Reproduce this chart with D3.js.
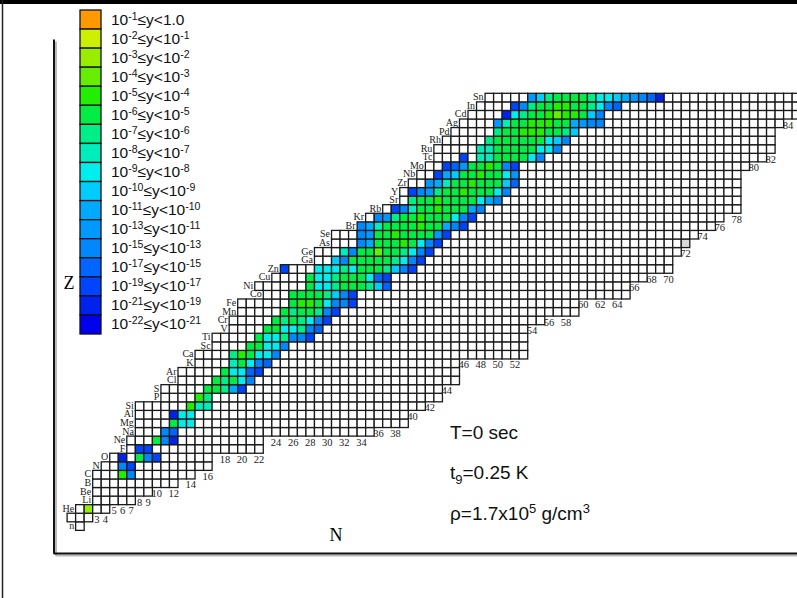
<!DOCTYPE html>
<html>
<head>
<meta charset="utf-8">
<script src="https://cdnjs.cloudflare.com/ajax/libs/d3/7.8.5/d3.min.js"></script>
<style>
  body { margin: 0; background: #fff; }
  svg { display: block; }
</style>
</head>
<body>
<div id="chart"></div>
<script>
(function(){
    var width = 797;
    var height = 598;

    // element symbol for each Z (H row is not labelled in the picture)
    var elements = ["n","","He","Li","Be","B","C","N","O","F",
      "Ne","Na","Mg","Al","Si","P","S","Cl","Ar","K",
      "Ca","Sc","Ti","V","Cr","Mn","Fe","Co","Ni","Cu",
      "Zn","Ga","Ge","As","Se","Br","Kr","Rb","Sr","Y",
      "Zr","Nb","Mo","Tc","Ru","Rh","Pd","Ag","Cd","In","Sn"];

    // first and last N of every row of boxes
    var rowStart = [1,0,1,3,3,3,3,4,5,7, 7,8,8,8,8,11,11,13,13,15,
      15,17,17,19,19,20,20,23,22,24, 25,29,29,31,31,34,35,37,39,39,
      40,41,42,43,43,44,45,46,47,48, 49];
    var rowEnd = [1,2,4,7,9,12,14,16,16,22, 22,35,39,39,41,43,43,45,45,45,
      53,53,53,53,55,59,59,65,65,67, 70,70,71,72,73,75,76,78,78,78,
      78,78,79,81,82,82,82,83,86,86, 86];

    // coloured boxes: first N of the run and one level code per box (0-g, "." = empty)
    var bandStart = [null,null,2,null,null,null,6,6,6,8,
      10,11,12,12,14,15,16,17,18,19,
      19,21,22,23,24,25,26,26,28,28,
      25,31,32,34,34,34,36,38,40,40,
      42,43,44,46,48,49,50,50,51,52, 54];
    var bandLevels = ["","","2","","","","4c","ce","f.5ce","ee",
      "5cf","cd","588","f88","477","46","556ae","5658c","588de","758cd",
      "64588c","5588c","5886cce","55886cd","56568ce","56556ce","54458cce","555569ce","588655569d","58865558de",
      "e...8886855569ce","9c5555568ce","7c5535568ce","ca555458ce","cb5545555be","ca75555455ace","cb65545558ce","ec7554555ac","655455558ac","ecb65545558c",
      "ba75545559d","ea9554558b","edb5545ce","e.7755558c","775555588c","655555589c","6554445569","b75544455abcc","f8655434459c","ec655445568cd",
      "b9655556889abcdf"];
    var greyCells = [[33, 72]];

    // legend classes, top to bottom
    var levelColors = ["#ff9900","#ccf000","#99ee00","#66ee00","#22ee00","#00ee44",
      "#00ee88","#00eebb","#00eeee","#00ccff","#00aaff","#0099ff","#0088ff",
      "#0066ff","#0044ff","#0022ee","#0000ee"];
    var levelLow = [-1,-2,-3,-4,-5,-6,-7,-8,-9,-10,-11,-13,-15,-17,-19,-21,-22];
    var levelHigh = [null,-1,-2,-3,-4,-5,-6,-7,-8,-9,-10,-11,-13,-15,-17,-19,-21];

    // neutron numbers written under the boxes, and the row they sit under
    var nLabels = [3,4,5,6,7,8,9,10,12,14,16,18,20,22,24,26,28,30,32,34,36,38,
      40,42,44,46,48,50,52,54,56,58,60,62,64,66,68,70,72,74,76,78,80,82,84];
    var nLabelRows = [2,2,3,3,3,4,4,5,5,6,7,9,9,9,11,11,11,11,11,11,12,12,
      14,15,17,20,20,20,20,24,25,25,27,27,27,29,30,30,33,35,36,37,43,44,48];

    var svg = d3.select("#chart")
      .append("svg")
      .attr("width", width)
      .attr("height", height)
      .style("font-family", "'Liberation Sans', Arial, sans-serif");

    var x = d3.scaleLinear().domain([0, 86]).range([67.1, 800.68]);
    var y = d3.scaleLinear().domain([50, 0]).range([93.3, 521.8]);
    var cw = x(1) - x(0);
    var ch = y(0) - y(1);

    // frame bits
    svg.append("rect").attr("x", 0).attr("y", 0).attr("width", width).attr("height", 4).attr("fill", "#000");
    svg.append("line").attr("x1", 2.5).attr("x2", 2.5).attr("y1", 0).attr("y2", height)
      .attr("stroke", "#222").attr("stroke-width", 1.5);

    // axis lines (no ticks), with a grey shadow
    var ax = d3.scaleLinear().domain([0, 1]).range([53, 797]);
    var ay = d3.scaleLinear().domain([0, 1]).range([553, 39]);
    [["#bbb", 2], ["#111", 0]].forEach(function(s){
      svg.append("g")
        .attr("transform", "translate(" + s[1] + "," + (553 + s[1]) + ")")
        .call(d3.axisBottom(ax).tickValues([]).tickSizeOuter(0))
        .select(".domain").attr("stroke", s[0]).attr("stroke-width", 2);
      svg.append("g")
        .attr("transform", "translate(" + (53.5 + s[1]) + "," + s[1] + ")")
        .call(d3.axisLeft(ay).tickValues([]).tickSizeOuter(0))
        .select(".domain").attr("stroke", s[0]).attr("stroke-width", 2);
    });

    // build boxes
    var cells = [];
    var byKey = {};
    elements.forEach(function(el, z){
      for (var n = rowStart[z]; n <= rowEnd[z]; n++) {
        var c = {z: z, n: n, fill: "#fff"};
        cells.push(c);
        byKey[z + "_" + n] = c;
      }
    });
    bandStart.forEach(function(s, z){
      if (s == null) return;
      bandLevels[z].split("").forEach(function(code, i){
        if (code === ".") return;
        var c = byKey[z + "_" + (s + i)];
        if (c) c.fill = levelColors[parseInt(code, 17)];
      });
    });
    greyCells.forEach(function(g){
      var c = byKey[g[0] + "_" + g[1]];
      if (c) c.fill = "#d9d9d9";
    });

    svg.append("g").selectAll("rect")
      .data(cells)
      .enter().append("rect")
      .attr("x", function(d){ return x(d.n); })
      .attr("y", function(d){ return y(d.z); })
      .attr("width", cw)
      .attr("height", ch)
      .attr("fill", function(d){ return d.fill; })
      .attr("stroke", "#1a1a1a")
      .attr("stroke-width", 1.3);

    // element labels
    svg.append("g").selectAll("text")
      .data(elements)
      .enter().append("text")
      .attr("x", function(d, z){ return x(rowStart[z]) - 1.5; })
      .attr("y", function(d, z){ return y(z) + 7; })
      .attr("text-anchor", "end")
      .style("font-family", "'Liberation Serif', 'Times New Roman', serif")
      .style("font-size", "10px")
      .attr("fill", "#222")
      .text(function(d){ return d; });

    // neutron number labels
    svg.append("g").selectAll("text")
      .data(nLabels)
      .enter().append("text")
      .attr("x", function(d){ return x(d + 0.5); })
      .attr("y", function(d, i){ return y(nLabelRows[i] - 1) + 9.5; })
      .attr("text-anchor", "middle")
      .style("font-family", "'Liberation Serif', 'Times New Roman', serif")
      .style("font-size", "10.5px")
      .attr("fill", "#222")
      .text(function(d){ return d; });

    // legend
    var lh = 19.06;
    var leg = svg.append("g");
    leg.selectAll("rect")
      .data(levelColors)
      .enter().append("rect")
      .attr("x", 80)
      .attr("y", function(d, i){ return 10 + i * lh; })
      .attr("width", 21)
      .attr("height", lh)
      .attr("fill", function(d){ return d; })
      .attr("stroke", "#111")
      .attr("stroke-width", 1.3);

    var lt = leg.selectAll("text")
      .data(levelLow)
      .enter().append("text")
      .attr("x", 111)
      .attr("y", function(d, i){ return 10 + i * lh + 14.5; })
      .style("font-size", "15.5px")
      .attr("fill", "#111");
    lt.each(function(d, i){
      var t = d3.select(this);
      t.append("tspan").text("10");
      t.append("tspan").attr("dy", -5).style("font-size", "10.5px").text(String(d));
      if (levelHigh[i] == null) {
        t.append("tspan").attr("dy", 5).text("\u2264y<1.0");
      } else {
        t.append("tspan").attr("dy", 5).text("\u2264y<10");
        t.append("tspan").attr("dy", -5).style("font-size", "10.5px").text(String(levelHigh[i]));
      }
    });

    // axis letters
    svg.append("text").attr("x", 69).attr("y", 289).attr("text-anchor", "middle")
      .style("font-family", "'Liberation Serif', 'Times New Roman', serif")
      .style("font-size", "18px").text("Z");
    svg.append("text").attr("x", 336).attr("y", 541).attr("text-anchor", "middle")
      .style("font-family", "'Liberation Serif', 'Times New Roman', serif")
      .style("font-size", "18px").text("N");

    // conditions
    var info = svg.append("g").style("font-size", "19px").attr("fill", "#111");
    info.append("text").attr("x", 450).attr("y", 439).text("T=0 sec");
    var t9 = info.append("text").attr("x", 450).attr("y", 479);
    t9.append("tspan").text("t");
    t9.append("tspan").attr("dy", 5).style("font-size", "13px").text("9");
    t9.append("tspan").attr("dy", -5).text("=0.25 K");
    var rho = info.append("text").attr("x", 450).attr("y", 520);
    rho.append("tspan").text("\u03c1=1.7x10");
    rho.append("tspan").attr("dy", -7).style("font-size", "13px").text("5");
    rho.append("tspan").attr("dy", 7).text(" g/cm");
    rho.append("tspan").attr("dy", -7).style("font-size", "13px").text("3");
})();
</script>
</body>
</html>
